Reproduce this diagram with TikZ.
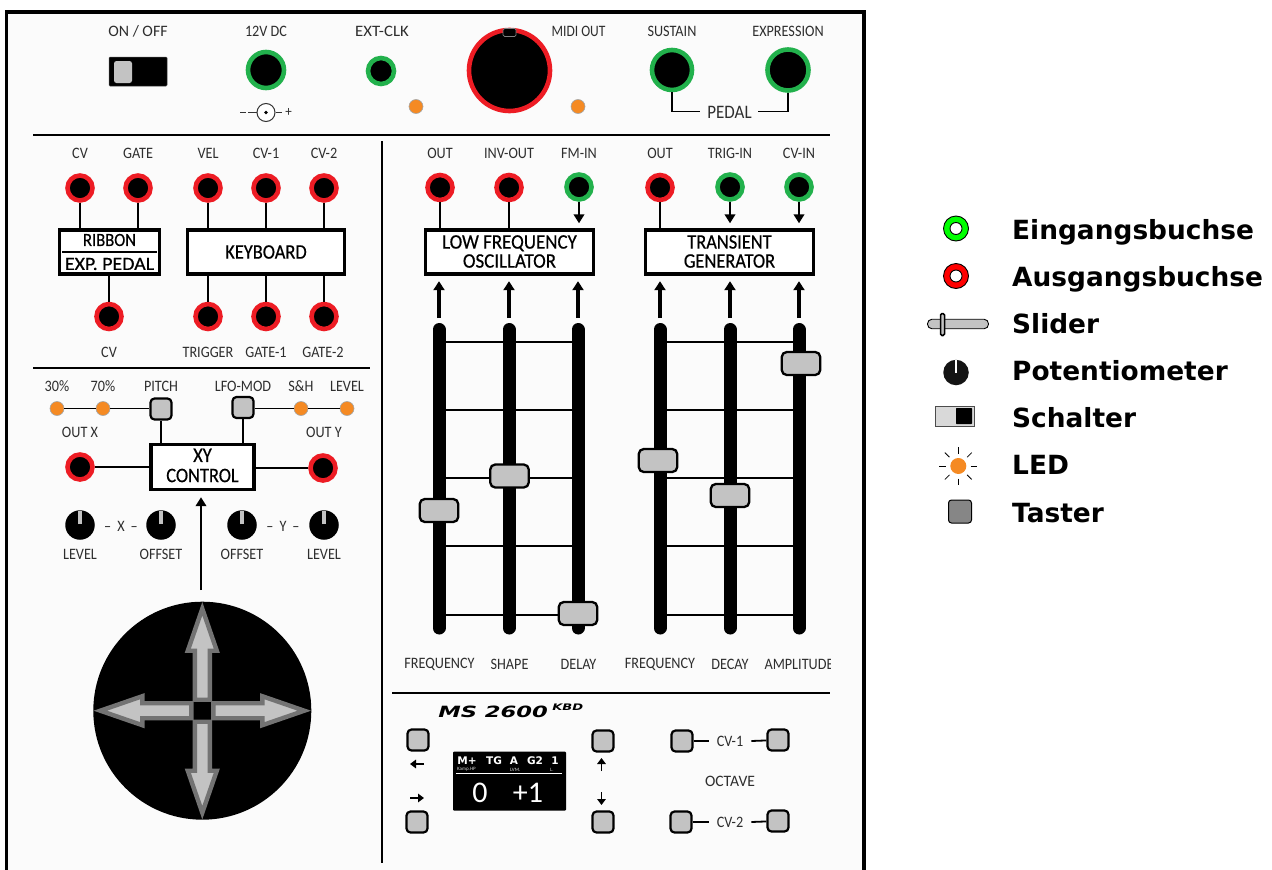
\documentclass[tikz,border=0pt]{standalone}
\usepackage{fontspec}
\setmainfont{Carlito}
\newfontfamily\legfont{DejaVu Sans}
\newfontfamily\boxfont[FakeBold=0.5]{Carlito}
\usetikzlibrary{arrows.meta,calc}
\definecolor{panel}{HTML}{FBFBFB}
\definecolor{ingreen}{HTML}{22B14C}
\definecolor{outred}{HTML}{ED1C24}
\definecolor{ledor}{HTML}{F58A23}
\definecolor{btngray}{HTML}{C3C3C3}
\definecolor{labtxt}{HTML}{2E2E2E}
\tikzset{
  lab/.style={text=labtxt,inner sep=0pt,font=\fontsize{14.2}{16}\selectfont,yscale=1.12,transform shape},
  boxtxt/.style={text=black,inner sep=0pt,align=center,font=\boxfont\fontsize{18.4}{20}\selectfont,yscale=1.12,transform shape},
  blockbox/.style={draw=black,line width=3.4pt,fill=white,inner sep=0pt},
  rule/.style={draw=black,line width=1.7pt},
  wire/.style={draw=black,line width=1.8pt},
  jackin/.style={circle,draw=ingreen,fill=black,line width=4.6pt,inner sep=0pt},
  jackout/.style={circle,draw=outred,fill=black,line width=4.6pt,inner sep=0pt},
  ledn/.style={circle,fill=ledor,draw=gray!70,line width=.6pt,inner sep=0pt,minimum size=14pt},
  btn/.style={draw=black,fill=btngray,line width=2.2pt,rounded corners=4pt,inner sep=0pt,minimum size=21pt},
  sknob/.style={draw=black,fill=btngray,line width=2.3pt,rounded corners=5pt,inner sep=0pt,minimum width=38.5pt,minimum height=23pt},
  track/.style={line width=13pt,line cap=round,draw=black},
  sarrow/.style={draw=black,line width=3.2pt,-{Triangle[width=11pt,length=9pt]}},
  thinarrow/.style={draw=black,line width=2.4pt,-{Triangle[width=10.5pt,length=9pt]}},
  tinyarrow/.style={draw=black,line width=1.9pt,-{Triangle[width=8.5pt,length=6pt]}},
  knobn/.style={circle,fill=black,inner sep=0pt,minimum size=29.5pt},
  leg/.style={anchor=base west,inner sep=0pt,text=black,font=\legfont\bfseries\fontsize{26.4}{30}\selectfont},
  joy/.style={draw=gray!90!black,fill=btngray,line width=4.4pt,line join=miter,miter limit=6},
  disptxt/.style={anchor=base,inner sep=0pt,text=white,font=\legfont\bfseries\fontsize{10.5}{12}\selectfont},
  dispsmall/.style={anchor=west,inner sep=0pt,text=white!85!black,font=\fontsize{5}{6}\selectfont},
  dispbig/.style={inner sep=0pt,text=white,font=\fontsize{30}{32}\selectfont},
}
\newcommand{\joyarrow}[1]{%
  \begin{scope}[shift={(joystick.center)},rotate=#1]
    \draw[joy] (11,-7.5) -- (60,-7.5) -- (60,-14.5) -- (102,0) -- (60,14.5) -- (60,7.5) -- (11,7.5) -- cycle;
  \end{scope}}
\newcommand{\potknob}[2]{%
  \node[knobn] (#1) at (#2) {};
  \draw[draw=btngray,line width=4.4pt] (#1.center) ++(0,-1) -- ++(0,-12.8);}
\begin{document}
\begin{tikzpicture}[x=1pt,y=-1pt]
\useasboundingbox (0,0) rectangle (1272,870);
\fill[white] (0,0) rectangle (1272,870);
% frame
\fill[panel] (7,12) rectangle (864,870);
\draw[black,line width=3.6pt] (6.6,874) -- (6.6,12) -- (864,12) -- (864,874);
% rules
\coordinate (ruleAa) at (33,135); \coordinate (ruleAb) at (830,135);
\coordinate (ruleBa) at (33,368); \coordinate (ruleBb) at (370,368);
\coordinate (ruleCa) at (392,693); \coordinate (ruleCb) at (830,693);
\coordinate (ruleDa) at (382,141); \coordinate (ruleDb) at (382,863);
\draw[rule] (ruleAa) -- (ruleAb);
\draw[rule] (ruleBa) -- (ruleBb);
\draw[rule] (ruleCa) -- (ruleCb);
\draw[rule] (ruleDa) -- (ruleDb);
% top row
\node[lab,xscale=1.12] (lonoff) at (138,31) {ON / OFF};
\node[lab] (ldc) at (266,31) {12V DC};
\node[lab,xscale=1.18] (lext) at (382,31) {EXT-CLK};
\node[lab,xscale=.95] (lmidi) at (578.5,31) {MIDI OUT};
\node[lab] (lsus) at (672,31) {SUSTAIN};
\node[lab] (lexp) at (788,31) {EXPRESSION};
\node[fill=black,draw=black!70,line width=.5pt,rounded corners=1pt,inner sep=0pt,minimum width=58pt,minimum height=29pt] (onoff) at (138,71.5) {};
\node[fill=btngray,rounded corners=2.5pt,inner sep=0pt,minimum width=18pt,minimum height=22pt] (onoffk) at (123,72) {};
\node[jackin,minimum size=36pt] (jdc) at (266,70) {};
\node[jackin,minimum size=26pt] (jext) at (381,71) {};
\node[ledn] (led1) at (416,106.5) {};
\node[circle,draw=outred,fill=black,line width=4.6pt,inner sep=0pt,minimum size=81pt] (jmidi) at (509.5,70.5) {};
\node[draw=gray,fill=black,line width=.7pt,rounded corners=1.5pt,inner sep=0pt,minimum width=13pt,minimum height=8pt] (midtab) at (509.5,32.5) {};
\node[ledn] (led2) at (578,106.5) {};
\node[jackin,minimum size=40pt] (jsus) at (672,70) {};
\node[jackin,minimum size=41pt] (jexp) at (788,70) {};
\node[lab,font=\fontsize{17}{18}\selectfont] (lped) at (729.5,112.5) {PEDAL};
\draw[wire] (jsus.south) |- ($(lped.west)+(-7,-1)$);
\draw[wire] (jexp.south) |- ($(lped.east)+(6,-1)$);
% DC symbol
\node[circle,draw=black!80,line width=1pt,inner sep=0pt,minimum size=18pt,fill=white] (dcsym) at (266,112.5) {};
\fill[black] (dcsym.center) circle (1.9);
\coordinate (dcm1) at (240,112.5); \coordinate (dcm2) at (246,112.5);
\coordinate (dcm3) at (248,112.5);
\draw[black!80,line width=1.2pt] (dcm1) -- (dcm2) (dcm3) -- (dcsym.west) (dcsym.east) -- +(6,0);
\node[lab,font=\fontsize{13}{14}\selectfont] (dcplus) at (288.5,112) {+};
% row 2 labels
\node[lab] (lcv) at (80,153.5) {CV};
\node[lab] (lgate) at (138,153.5) {GATE};
\node[lab] (lvel) at (208,153.5) {VEL};
\node[lab] (lcv1) at (266,153.5) {CV-1};
\node[lab] (lcv2) at (324,153.5) {CV-2};
\node[lab] (lo1) at (440,153.5) {OUT};
\node[lab] (linv) at (509,153.5) {INV-OUT};
\node[lab] (lfm) at (579,153.5) {FM-IN};
\node[lab] (lo2) at (660,153.5) {OUT};
\node[lab] (ltrig) at (730,153.5) {TRIG-IN};
\node[lab] (lcvin) at (799,153.5) {CV-IN};
% boxes
\node[blockbox,minimum width=100pt,minimum height=44pt] (ribbon) at (109.5,252) {};
\node[boxtxt,font=\boxfont\fontsize{16.6}{18}\selectfont] (ribt) at (109.5,240) {RIBBON};
\node[boxtxt,font=\boxfont\fontsize{16.6}{18}\selectfont,xscale=1.2] (expt) at (109.5,264) {EXP. PEDAL};
\coordinate (ribl) at (62,252); \coordinate (ribr) at (157,252);
\draw[black,line width=1.5pt] (ribl) -- (ribr);
\node[blockbox,minimum width=157pt,minimum height=44pt] (kbd) at (266,252) {};
\node[boxtxt] (kbdt) at (266,252) {KEYBOARD};
\node[blockbox,minimum width=168pt,minimum height=44pt] (lfo) at (509.5,252) {};
\node[boxtxt,xscale=1.03] (lfot) at (509.5,251.5) {LOW FREQUENCY\\[-3pt]OSCILLATOR};
\node[blockbox,minimum width=168pt,minimum height=44pt] (tg) at (729.5,252) {};
\node[boxtxt] (tgt) at (729.5,251.5) {TRANSIENT\\[-3pt]GENERATOR};
% jacks row 2
\node[jackout,minimum size=25pt] (ja) at (80,188) {};
\node[jackout,minimum size=25pt] (jb) at (138,188) {};
\node[jackout,minimum size=25pt] (jc) at (208,188) {};
\node[jackout,minimum size=25pt] (jd) at (266,188) {};
\node[jackout,minimum size=25pt] (je) at (324,188) {};
\node[jackout,minimum size=25pt] (jf) at (440,187.5) {};
\node[jackout,minimum size=25pt] (jg) at (509,187.5) {};
\node[jackin,minimum size=25pt] (jh) at (579,187) {};
\node[jackout,minimum size=25pt] (ji) at (660,187.5) {};
\node[jackin,minimum size=25pt] (jj) at (730,187) {};
\node[jackin,minimum size=25pt] (jk) at (799,187) {};
\foreach \n/\b in {ja/ribbon,jb/ribbon,jc/kbd,jd/kbd,je/kbd,jf/lfo,jg/lfo,ji/tg}{\draw[wire] (\n.south) -- (\n.south |- \b.north);}
\draw[thinarrow] (jh.south) -- ($(jh.south |- lfo.north)+(0,-5)$);
\draw[thinarrow] (jj.south) -- ($(jj.south |- tg.north)+(0,-5)$);
\draw[thinarrow] (jk.south) -- ($(jk.south |- tg.north)+(0,-5)$);
% jacks row 3
\node[jackout,minimum size=25pt] (jl) at (109,316.5) {};
\node[jackout,minimum size=25pt] (jm) at (208,316.5) {};
\node[jackout,minimum size=25pt] (jn) at (266,316.5) {};
\node[jackout,minimum size=25pt] (jo) at (324,316.5) {};
\draw[wire] (jl.north) -- (jl.north |- ribbon.south);
\draw[wire] (jm.north) -- (jm.north |- kbd.south);
\draw[wire] (jn.north) -- (jn.north |- kbd.south);
\draw[wire] (jo.north) -- (jo.north |- kbd.south);
\node[lab] (lcvb) at (109,352) {CV};
\node[lab] (ltrg) at (208,352) {TRIGGER};
\node[lab] (lg1) at (266,352) {GATE-1};
\node[lab] (lg2) at (323,352) {GATE-2};
% XY section
\node[lab] (l30) at (57,386) {30\%};
\node[lab] (l70) at (103,386) {70\%};
\node[lab] (lpitch) at (161,386) {PITCH};
\node[lab] (llfom) at (243,386) {LFO-MOD};
\node[lab] (lsh) at (301,386) {S\&H};
\node[lab] (llev) at (347,386) {LEVEL};
\node[ledn] (led3) at (57,408.5) {};
\node[ledn] (led4) at (103,408.5) {};
\node[ledn] (led5) at (301,408.5) {};
\node[ledn] (led6) at (347,408.5) {};
\node[btn] (bpitch) at (161,409) {};
\node[btn] (blfo) at (243,407.5) {};
\draw[wire] (led3) -- (led4);
\draw[wire] (led4) -- (led4 -| bpitch.west);
\draw[wire] (led5 -| blfo.east) -- (led5);
\draw[wire] (led5) -- (led6);
\node[blockbox,minimum width=103pt,minimum height=45pt] (xy) at (202.5,467) {};
\node[boxtxt] (xyt) at (202.5,465.5) {XY\\[-2pt]CONTROL};
\draw[wire] (bpitch.south) -- (bpitch.south |- xy.north);
\draw[wire] (blfo.south) -- (blfo.south |- xy.north);
\node[lab] (loutx) at (80,432) {OUT X};
\node[lab] (louty) at (324,432) {OUT Y};
\node[jackout,minimum size=25pt] (jx) at (80,467) {};
\node[jackout,minimum size=25pt] (jy) at (323,468) {};
\draw[wire] (jx) -- (xy.west |- jx);
\draw[wire] (jy) -- (xy.east |- jy);
\potknob{pa}{80,525}
\potknob{pb}{161,525}
\potknob{pc}{242,525}
\potknob{pd}{324,525}
\node[lab] (lx) at (121,526) {--\hspace{6pt}X\hspace{6pt}--};
\node[lab] (ly) at (283,526) {--\hspace{6pt}Y\hspace{6pt}--};
\node[lab] (lla) at (80,554) {LEVEL};
\node[lab] (llb) at (161,554) {OFFSET};
\node[lab] (llc) at (242,554) {OFFSET};
\node[lab] (lld) at (324,554) {LEVEL};
% joystick
\node[circle,fill=black,inner sep=0pt,minimum size=218pt] (joystick) at (202.3,710.7) {};
\joyarrow{0}\joyarrow{90}\joyarrow{180}\joyarrow{270}
\coordinate (joytip) at (201,590);
\draw[thinarrow] (joytip) -- ($(xy.south)+(-1.5,6)$);
% sliders
\foreach \yy in {342,410,478,546,615}{
  \draw[black,line width=1.7pt] (439,\yy) -- (578,\yy);
  \draw[black,line width=1.7pt] (660,\yy) -- (799,\yy);
}
\foreach \n/\xx/\bx in {ta/439/lfo,tb/509/lfo,tc/578/lfo,td/660/tg,te/730/tg,tf/799/tg}{
  \coordinate (\n t) at (\xx,329.5);
  \coordinate (\n b) at (\xx,628);
  \coordinate (\n a) at (\xx,318);
  \draw[track] (\n t) -- (\n b);
  \draw[sarrow] (\n a) -- ($(\n a |- \bx.south)+(0,5.5)$);
}
\node[sknob] (ka) at (439,510.5) {};
\node[sknob] (kb) at (509.5,476) {};
\node[sknob] (kc) at (578,613.5) {};
\node[sknob] (kd) at (658,460.5) {};
\node[sknob] (ke) at (730,495.5) {};
\node[sknob] (kf) at (801,363.5) {};
\node[lab] (lf1) at (439.5,664.5) {FREQUENCY};
\node[lab] (lsh2) at (509.5,664.5) {SHAPE};
\node[lab] (ldel) at (578.5,664.5) {DELAY};
\node[lab] (lf2) at (660,664.5) {FREQUENCY};
\node[lab] (ldec) at (730,664.5) {DECAY};
\begin{scope}
\clip (760,650) rectangle (830,680);
\node[lab] (lamp) at (799,664.5) {AMPLITUDE};
\end{scope}
% bottom panel
\node[anchor=base west,inner sep=0pt,text=black,font=\legfont\bfseries\itshape\fontsize{15.5}{18}\selectfont,xscale=1.46,transform shape] (logo) at (438,717.5) {MS 2600};
\node[anchor=base west,inner sep=0pt,text=black,font=\legfont\bfseries\itshape\fontsize{9}{10}\selectfont,xscale=1.45,transform shape] (logok) at (552,710.5) {KBD};
\node[btn] (ba) at (418,740) {};
\node[btn] (bb) at (417,822) {};
\node[btn] (bc) at (603,741) {};
\node[btn] (bd) at (603,822) {};
\node[btn] (be) at (682,741) {};
\node[btn] (bf) at (778,740) {};
\node[btn] (bg) at (681,822) {};
\node[btn] (bh) at (778,821) {};
\coordinate (arl) at (424,764); \coordinate (arlb) at (410,764);
\coordinate (arr) at (410,798); \coordinate (arrb) at (424,798);
\coordinate (aru) at (601.5,771); \coordinate (arub) at (601.5,758);
\coordinate (ard) at (601.5,792); \coordinate (ardb) at (601.5,805);
\draw[tinyarrow] (arl) -- (arlb);
\draw[tinyarrow] (arr) -- (arrb);
\draw[tinyarrow] (aru) -- (arub);
\draw[tinyarrow] (ard) -- (ardb);
\node[fill=black,rounded corners=1pt,inner sep=0pt,minimum width=113pt,minimum height=59pt] (disp) at (509.5,781) {};
\node[disptxt] (d1) at (467,764.5) {M+};
\node[disptxt] (d2) at (494,764.5) {TG};
\node[disptxt] (d3) at (514,764.5) {A};
\node[disptxt] (d4) at (535,764.5) {G2};
\node[disptxt] (d5) at (555,764.5) {1};
\coordinate (dla) at (456,773.7); \coordinate (dlb) at (562,773.7);
\draw[white,line width=.8pt] (dla) -- (dlb);
\node[dispsmall] (d6) at (457,769.5) {Kamp.HP};
\node[dispsmall] (d7) at (510,769.5) {LVM.};
\node[dispsmall] (d8) at (550,769.5) {L.};
\node[dispbig] (d9) at (480,793) {0};
\node[dispbig] (d10) at (528,793) {+1};
\node[lab] (lc1) at (730,741) {CV-1};
\node[lab] (lc2) at (730,822) {CV-2};
\node[lab,xscale=1.1] (loct) at (730,781) {OCTAVE};
\draw[wire] (be) -- ($(lc1.west)+(-8,0)$);
\draw[wire] (bf) -- ($(lc1.east)+(8,0)$);
\draw[wire] (bg) -- ($(lc2.west)+(-8,0)$);
\draw[wire] (bh) -- ($(lc2.east)+(8,0)$);
% legend
\node[circle,draw=black,fill=green,line width=.9pt,inner sep=0pt,minimum size=25pt] (lgA) at (956,228.5) {};
\node[circle,draw=black,fill=white,line width=.9pt,inner sep=0pt,minimum size=12pt] (lgAi) at (956,228.5) {};
\node[circle,draw=black,fill=red,line width=.9pt,inner sep=0pt,minimum size=25pt] (lgB) at (956,276) {};
\node[circle,draw=black,fill=white,line width=.9pt,inner sep=0pt,minimum size=12pt] (lgBi) at (956,276) {};
\node[draw=black,fill=btngray,line width=.9pt,rounded corners=4.5pt,inner sep=0pt,minimum width=61pt,minimum height=9.5pt] (lgC) at (958,324) {};
\node[draw=black,fill=btngray,line width=1.5pt,rounded corners=1.5pt,inner sep=0pt,minimum width=4pt,minimum height=22pt] (lgCk) at (942.5,324.5) {};
\node[circle,fill=black!92,inner sep=0pt,minimum size=25.5pt] (lgD) at (956,372.5) {};
\draw[white,line width=2.2pt] (lgD.center) -- (lgD.north);
\node[draw=black!70,fill=black!15,line width=.9pt,inner sep=0pt,minimum width=39pt,minimum height=20pt] (lgE) at (955,416) {};
\node[fill=black,rounded corners=.6pt,inner sep=0pt,minimum width=16pt,minimum height=16pt] (lgEk) at (964,416) {};
\node[circle,fill=ledor,inner sep=0pt,minimum size=16pt] (lgF) at (958.3,466) {};
\foreach \a in {0,45,...,315}{\draw[black,line width=.8pt] (lgF.center) ++(\a:12.5) -- ++(\a:6.5);}
\node[draw=black,fill=gray!95,line width=1pt,rounded corners=3pt,inner sep=0pt,minimum size=23pt] (lgG) at (960,511.5) {};
\node[leg] (t1) at (1012,239) {Eingangsbuchse};
\node[leg] (t2) at (1012,286) {Ausgangsbuchse};
\node[leg] (t3) at (1012,333) {Slider};
\node[leg] (t4) at (1012,380) {Potentiometer};
\node[leg] (t5) at (1012,427) {Schalter};
\node[leg] (t6) at (1012,474) {LED};
\node[leg] (t7) at (1012,522) {Taster};
\end{tikzpicture}
\end{document}
